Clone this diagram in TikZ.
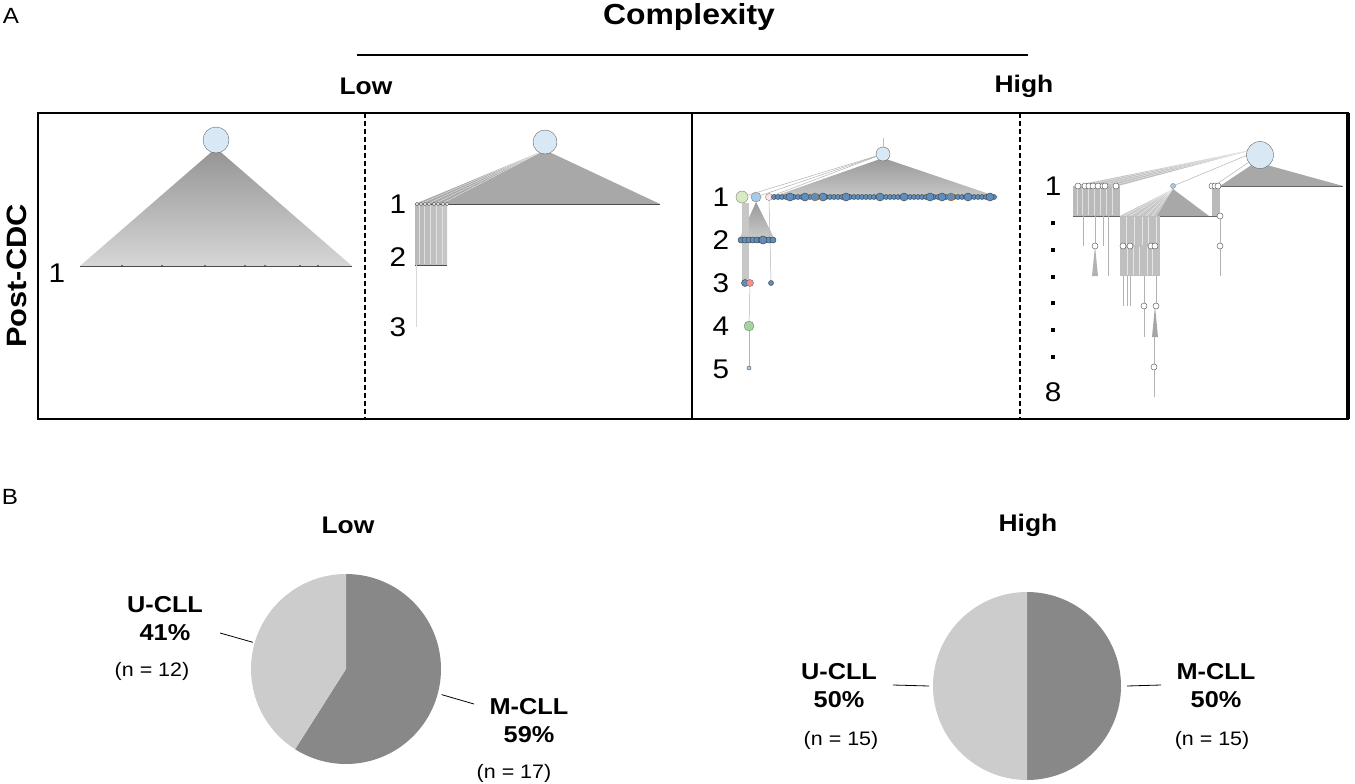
\documentclass[tikz,border=0pt]{standalone}
\usepackage{fontspec}
\setmainfont{Liberation Sans}[FakeStretch=1.1]
\definecolor{rootblue}{HTML}{D8E9F5}
\definecolor{nodeblue}{HTML}{5B8FC0}
\definecolor{fangray}{HTML}{A8A8A8}
\definecolor{leafgreen}{HTML}{A3D49F}
\definecolor{palegreen}{HTML}{D6EBC4}
\definecolor{skyblue}{HTML}{A9C9E6}
\definecolor{pielight}{HTML}{CCCCCC}
\definecolor{piedark}{HTML}{888888}
\tikzset{
  root/.style={circle,draw=black!60,fill=rootblue,inner sep=0pt,minimum size=#1},
  clone/.style={circle,draw=black!60,fill=white,inner sep=0pt,minimum size=#1,line width=0.5pt},
  sub/.style={circle,draw=black!70,fill=nodeblue,inner sep=0pt,minimum size=#1,line width=0.5pt},
  lvl/.style={font=\fontsize{27}{27}\selectfont},
  head/.style={font=\bfseries\fontsize{24}{24}\selectfont},
  pct/.style={font=\bfseries\fontsize{23}{28}\selectfont,align=center},
  cnt/.style={font=\fontsize{19.5}{19.5}\selectfont},
  edge/.style={black!30,line width=0.5pt},
  lead/.style={black,line width=0.8pt}
}
\begin{document}
\begin{tikzpicture}[x=1pt,y=-1pt]
\useasboundingbox (0,0) rectangle (1355,784);

% panel A, header
\node[font=\fontsize{22}{22}\selectfont] (labA) at (11,16) {A};
\node[font=\bfseries\fontsize{29}{29}\selectfont] (cplx) at (689,17) {Complexity};
\draw[line width=2pt] (357,55) -- (1028,55);
\node[head] (lowA) at (366,86) {Low};
\node[head] (highA) at (1024,86) {High};
\node[font=\bfseries\fontsize{28}{28}\selectfont,rotate=90] (post) at (17,276) {Post-CDC};

% frame
\draw[line width=2.5pt] (38,113) rectangle (1348,419);
\draw[line width=4pt] (1348,113) -- (1348,419);
\draw[line width=1.5pt] (692,113) -- (692,419);
\draw[line width=2pt,dash pattern=on 5pt off 3pt] (365,113) -- (365,419);
\draw[line width=2pt,dash pattern=on 5pt off 3pt] (1020,113) -- (1020,419);

% tree 1
\shade[top color=black!42,bottom color=black!16] (216,148) -- (352,266) -- (80,266) -- cycle;
\draw[black!70,line width=0.6pt] (80,266) -- (352,266);
\foreach \x in {122,162,205,245,265,300,318} \fill[black!70] (\x,266) circle (1.2);
\node[root=26pt] (r1) at (216,140) {};
\node[lvl] (t1a) at (57,273) {1};

% tree 2
\fill[fangray] (545,150) -- (660,204) -- (415,204) -- cycle;
\foreach \x in {420,427,434,441} \draw[black!12,line width=0.5pt] (545,150) -- (\x,204);
\shade[left color=black!28,right color=black!22] (415,204) rectangle (447,265);
\foreach \x in {419,424,430,436,442} \draw[black!12,line width=0.6pt] (\x,205) -- (\x,264);
\draw[black!70,line width=0.6pt] (415,204) -- (660,204);
\draw[black!70,line width=0.6pt] (415,265) -- (447,265);
\draw[black!15,line width=0.8pt] (416,265) -- (416,327);
\foreach \x in {417,421,425,429,434,438,443,447} \node[clone=3.5pt] at (\x,204) {};
\node[root=24pt] (r2) at (545,142) {};
\node[lvl] (t2a) at (398,204) {1};
\node[lvl] (t2b) at (398,257) {2};
\node[lvl] (t2c) at (398,327) {3};

% tree 3
\draw[black!25] (883,138) -- (883,147);
\shade[top color=black!40,bottom color=black!22] (883,158) -- (998,197) -- (772,197) -- cycle;
\node[root=14pt] (r3) at (883,154) {};
\node[circle,draw=black!50,fill=palegreen,inner sep=0pt,minimum size=12pt] (g1) at (742,197) {};
\node[circle,draw=black!50,fill=skyblue,inner sep=0pt,minimum size=10pt] (b1) at (756,197) {};
\node[circle,draw=black!50,fill=pink!40,inner sep=0pt,minimum size=7pt] (p1) at (769,197) {};
\foreach \n in {g1,b1,p1} \draw[edge] (r3) -- (\n);
\foreach \x in {774,778,...,996} \node[sub=5pt] at (\x,197) {};
\foreach \x in {790,805,823,846,880,904,930,942,968,990} \node[sub=8pt] at (\x,197) {};
\foreach \x in {815,951} \node[circle,draw=orange!70!black,fill=nodeblue,inner sep=0pt,minimum size=8pt] at (\x,197) {};
% level 2 to 5
\shade[top color=black!40,bottom color=black!20] (756,202) -- (775,240) -- (739,240) -- cycle;
\fill[black!22] (742,203) rectangle (749,281);
\draw[edge] (769,200) -- (771,281);
\foreach \x in {741,745,...,775} \node[sub=6pt] at (\x,240) {};
\node[sub=8pt] at (763,240) {};
\node[sub=7pt] (s3a) at (745,283) {};
\node[circle,draw=black!60,fill=red!45,inner sep=0pt,minimum size=7pt] (s3b) at (750,283) {};
\node[sub=5pt] (s3c) at (771,283) {};
\node[circle,draw=black!50,fill=leafgreen,inner sep=0pt,minimum size=10pt] (s4) at (749,326) {};
\node[clone=4pt,fill=skyblue] (s5) at (749,368) {};
\draw[edge] (s3b) -- (s4);
\draw[edge] (s4) -- (s5);
\node[lvl] (t3a) at (721,197) {1};
\node[lvl] (t3b) at (721,240) {2};
\node[lvl] (t3c) at (721,283) {3};
\node[lvl] (t3d) at (721,326) {4};
\node[lvl] (t3e) at (721,369) {5};

% tree 4
\fill[fangray] (1256,162) -- (1343,186) -- (1220,186) -- cycle;
\fill[black!25] (1252,150) -- (1118,186) -- (1073,186) -- cycle;
\foreach \x in {1080,1090,1100,1110} \draw[black!10,line width=0.5pt] (1252,150) -- (\x,186);
\draw[edge] (1250,154) -- (1173,186);
\draw[edge] (1252,160) -- (1214,186);
\draw[black!60,line width=0.5pt] (1073,186) -- (1120,186) (1212,186) -- (1343,186);
% level 2
\fill[black!27] (1073,186) rectangle (1120,216);
\foreach \x in {1077,1082,1088,1094,1100,1106,1112} \draw[black!12,line width=0.6pt] (\x,187) -- (\x,215);
\fill[black!22] (1173,189) -- (1160,216) -- (1120,216) -- cycle;
\foreach \x in {1124,1130,1138,1146,1152} \draw[black!8,line width=0.5pt] (1173,189) -- (\x,216);
\fill[fangray] (1173,189) -- (1209,216) -- (1157,216) -- cycle;
\fill[black!27] (1212,186) rectangle (1220,216);
\draw[black!60,line width=0.5pt] (1073,216) -- (1222,216);
% level 3 to 8
\foreach \x in {1083,1103,1108} \draw[black!30,line width=0.6pt] (\x,216) -- (\x,246);
\draw[black!30,line width=0.6pt] (1095,216) -- (1095,246);
\fill[black!25] (1120,216) rectangle (1160,246);
\foreach \x in {1126,1134,1142,1148,1156} \draw[black!10,line width=0.6pt] (\x,217) -- (\x,245);
\draw[black!30,line width=0.6pt] (1220,216) -- (1220,276);
\draw[black!60,line width=0.5pt] (1120,246) -- (1160,246);
\fill[black!30] (1095,246) -- (1098,276) -- (1092,276) -- cycle;
\draw[black!30,line width=0.6pt] (1108,246) -- (1108,276);
\fill[black!25] (1120,246) rectangle (1160,276);
\foreach \x in {1127,1133,1139,1147,1152} \draw[black!10,line width=0.6pt] (\x,247) -- (\x,275);
\foreach \x in {1123,1127,1130} \draw[black!30,line width=0.6pt] (\x,276) -- (\x,306);
\draw[black!30,line width=0.6pt] (1144,276) -- (1144,337);
\draw[black!30,line width=0.6pt] (1156,276) -- (1156,306);
\fill[black!35] (1155,306) -- (1158,337) -- (1152,337) -- cycle;
\draw[black!30,line width=0.6pt] (1154,337) -- (1154,397);
\foreach \p in {(1078,186),(1085,186),(1089,186),(1093,186),(1098,186),(1103,186),(1105,186),(1116,186),
  (1212,186),(1215,186),(1218,186),(1220,216),(1095,246),(1123,246),(1130,246),(1151,246),(1155,246),
  (1220,246),(1144,306),(1156,306),(1154,367)} \node[clone=6pt] at \p {};
\node[circle,draw=black!50,fill=skyblue,inner sep=0pt,minimum size=5pt] (b4) at (1173,186) {};
\node[root=27pt] (r4) at (1260,155) {};
\node[lvl] (t4a) at (1053,186) {1};
\foreach \y in {223,250,277,303,330,357} \fill (1050.5,\y-2) rectangle (1055,\y+2);
\node[lvl] (t4h) at (1053,392) {8};

% panel B
\node[font=\fontsize{22}{22}\selectfont] (labB) at (10,497) {B};
\node[head] (lowB) at (348,525) {Low};
\node[head] (highB) at (1028,525) {High};

% low pie
\begin{scope}[shift={(346,669)},yscale=-1]
  \fill[piedark] (0,0) -- (90:95) arc[start angle=90,end angle=-122.4,radius=95] -- cycle;
  \fill[pielight] (0,0) -- (-122.4:95) arc[start angle=-122.4,end angle=-270,radius=95] -- cycle;
  \coordinate (uLowEdge) at (164:97);
  \coordinate (mLowEdge) at (-15:99);
\end{scope}
\node[pct] (uLow) at (165,619) {U-CLL\\41\%};
\node[cnt] (nuLow) at (152,671) {(n = 12)};
\node[pct] (mLow) at (529,721) {M-CLL\\59\%};
\node[cnt] (nmLow) at (514,773) {(n = 17)};
\coordinate (uLowEnd) at (220,633);
\coordinate (mLowEnd) at (474,704);
\draw[lead] (uLowEnd) -- (uLowEdge);
\draw[lead] (mLowEdge) -- (mLowEnd);

% high pie
\begin{scope}[shift={(1027,686)},yscale=-1]
  \fill[piedark] (0,0) -- (90:94) arc[start angle=90,end angle=-90,radius=94] -- cycle;
  \fill[pielight] (0,0) -- (-90:94) arc[start angle=-90,end angle=-270,radius=94] -- cycle;
  \coordinate (uHighEdge) at (180:98);
  \coordinate (mHighEdge) at (0:100);
\end{scope}
\node[pct] (uHigh) at (839,686) {U-CLL\\50\%};
\node[cnt] (nuHigh) at (841,740) {(n = 15)};
\node[pct] (mHigh) at (1216,686) {M-CLL\\50\%};
\node[cnt] (nmHigh) at (1212,740) {(n = 15)};
\coordinate (uHighEnd) at (893,685);
\coordinate (mHighEnd) at (1161,685);
\draw[lead] (uHighEnd) -- (uHighEdge);
\draw[lead] (mHighEdge) -- (mHighEnd);
\end{tikzpicture}
\end{document}
